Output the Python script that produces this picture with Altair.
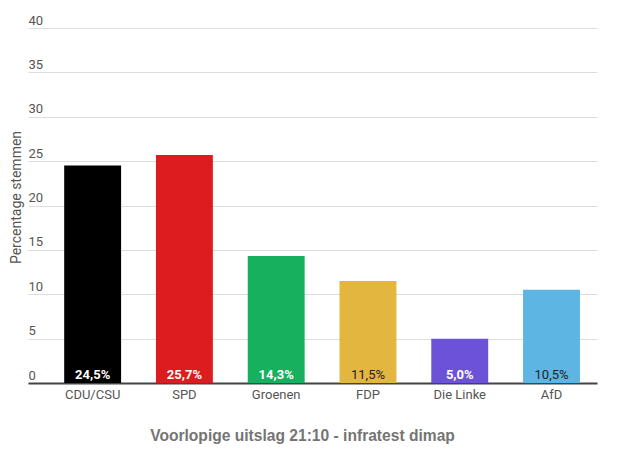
import altair as alt
import pandas as pd

parties = ["CDU/CSU", "SPD", "Groenen", "FDP", "Die Linke", "AfD"]
values = [24.5, 25.7, 14.3, 11.5, 5.0, 10.5]
labels = ["24,5%", "25,7%", "14,3%", "11,5%", "5,0%", "10,5%"]
colors = ["#000000", "#dd1c20", "#16b05f", "#e3b640", "#6c52d8", "#5db5e4"]
bold_label = [True, True, True, False, True, False]
y_ticks = [0, 5, 10, 15, 20, 25, 30, 35, 40]

df = pd.DataFrame({"party": parties, "value": values, "label": labels,
                   "color": colors, "bold": bold_label})

x_enc = alt.X("party:N", sort=parties,
              scale=alt.Scale(paddingInner=0.38, paddingOuter=0.29, align=0.68),
              axis=alt.Axis(title="Voorlopige uitslag 21:10 - infratest dimap",
                            labelAngle=0, labelFont="Roboto", labelFontSize=13,
                            labelColor="#555555", labelPadding=5, ticks=False, tickSize=0,
                            domainColor="#444444", domainWidth=2,
                            titleFont="Liberation Sans", titleFontSize=15.6, titleFontWeight="bold",
                            titleColor="#757575", titleX=274, titleY=57,
                            titleAnchor="start", titleAlign="center", titleBaseline="alphabetic"))

y_enc = alt.Y("value:Q", scale=alt.Scale(domain=[0, 40], nice=False),
              axis=alt.Axis(title="Percentage stemmen", values=y_ticks, grid=True,
                            gridColor="#dddddd", gridWidth=1, domain=False, ticks=False,
                            tickSize=0, labelAlign="left", labelPadding=0,
                            labelBaseline="alphabetic", labelOffset=-4,
                            labelFont="Roboto", labelFontSize=13, labelColor="#555555",
                            titleFont="Roboto", titleFontSize=14, titleFontWeight="normal",
                            titleColor="#555555", titleAngle=-90, titleX=-12, titleY=169,
                            titleAlign="center", titleBaseline="middle"))

bars = alt.Chart(df).mark_bar().encode(
    x=x_enc, y=y_enc,
    color=alt.Color("color:N", scale=None))

text_bold = alt.Chart(df).transform_filter("datum.bold").mark_text(
    font="Roboto", fontSize=13, fontWeight="bold", color="#ffffff",
    baseline="alphabetic", dy=-4).encode(
    x=alt.X("party:N", sort=parties), y=alt.datum(0), text="label:N")

text_plain = alt.Chart(df).transform_filter("!datum.bold").mark_text(
    font="Roboto", fontSize=13, fontWeight="normal", color="#222222",
    baseline="alphabetic", dy=-4).encode(
    x=alt.X("party:N", sort=parties), y=alt.datum(0), text="label:N")

chart = alt.layer(bars, text_bold, text_plain).properties(
    width=569, height=355,
    autosize=alt.AutoSizeParams(type="none"),
    padding={"left": 20, "top": 20, "right": 20, "bottom": 70},
).configure_view(stroke=None)

chart.save("out.html", embed_options={"renderer": "svg", "actions": False})
